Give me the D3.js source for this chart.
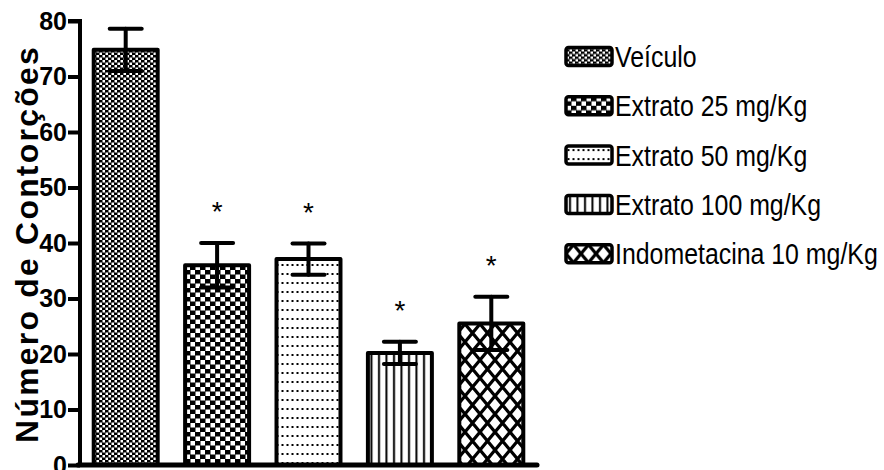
<!DOCTYPE html>
<html>
<head>
<meta charset="utf-8">
<script src="https://cdn.jsdelivr.net/npm/d3@7"></script>
<style>
  html, body { margin: 0; padding: 0; background: #fff; }
  svg { display: block; }
</style>
</head>
<body>
<svg id="chart" width="884" height="470"></svg>
<script>
// Writhing test: number of abdominal contortions per group (mean ± SEM)
const groups = ["Veículo", "Extrato 25 mg/Kg", "Extrato 50 mg/Kg", "Extrato 100 mg/Kg", "Indometacina 10 mg/Kg"];
const means = [74.8, 36.0, 37.1, 20.2, 25.5];
const sems = [3.8, 4.0, 2.8, 2.0, 4.8];
const significant = [false, true, true, true, true];
const yTicks = [0, 10, 20, 30, 40, 50, 60, 70, 80];
const fills = ["pVeh", "pE25", "pE50", "pE100", "pIndo"];

const svg = d3.select("#chart");
const margin = { left: 80, right: 347, top: 21, bottom: 5 };
const W = 884, H = 470;
const FONT = "Liberation Sans, Arial, sans-serif";

const x = d3.scaleBand().domain(groups).range([margin.left, W - margin.right]).paddingInner(0.3).paddingOuter(0.15);
const y = d3.scaleLinear().domain([0, 80]).range([H - margin.bottom, margin.top]);

// Squeeze a text element horizontally so its rendered length equals `target`
function condense(sel, target, anchorX) {
  sel.each(function () {
    const len = this.getComputedTextLength();
    const k = target / len;
    d3.select(this).attr("transform", (d3.select(this).attr("transform") || "") + ` translate(${anchorX},0) scale(${k},1) translate(${-anchorX},0)`);
  });
}

// Fill patterns
const defs = svg.append("defs");
function pat(id, w, h) {
  return defs.append("pattern").attr("id", id).attr("patternUnits", "userSpaceOnUse")
    .attr("width", w).attr("height", h);
}
// fine checkerboard
{
  const p = pat("pVeh", 6, 5);
  p.append("rect").attr("width", 6).attr("height", 5).attr("fill", "#000");
  p.append("rect").attr("x", 0.5).attr("y", 0).attr("width", 2.5).attr("height", 2.5).attr("fill", "#fff");
  p.append("rect").attr("x", 3.5).attr("y", 2.5).attr("width", 2.5).attr("height", 2.5).attr("fill", "#fff");
}
// coarse checkerboard
{
  const p = pat("pE25", 10, 9);
  p.append("rect").attr("width", 10).attr("height", 9).attr("fill", "#000");
  p.append("rect").attr("x", 0.5).attr("y", 0).attr("width", 4.5).attr("height", 4.5).attr("fill", "#fff");
  p.append("rect").attr("x", 5.5).attr("y", 4.5).attr("width", 4.5).attr("height", 4.5).attr("fill", "#fff");
}
// dotted rows
{
  const p = pat("pE50", 5, 9);
  p.append("rect").attr("width", 5).attr("height", 9).attr("fill", "#fff");
  p.append("rect").attr("x", 1.5).attr("y", 3).attr("width", 2).attr("height", 2).attr("fill", "#000");
}
// vertical lines
{
  const p = pat("pE100", 7.5, 10);
  p.append("rect").attr("width", 7.5).attr("height", 10).attr("fill", "#fff");
  p.append("rect").attr("x", 3).attr("y", 0).attr("width", 2).attr("height", 10).attr("fill", "#000");
}
// diagonal crosshatch
{
  const p = pat("pIndo", 15, 18);
  p.append("rect").attr("width", 15).attr("height", 18).attr("fill", "#fff");
  const d = "M-7.5,-9L22.5,27M-7.5,9L7.5,27M7.5,-9L22.5,9M22.5,-9L-7.5,27M7.5,-9L-7.5,9M22.5,9L7.5,27";
  p.append("path").attr("d", d).attr("stroke", "#000").attr("stroke-width", 3.2).attr("fill", "none");
}

// Bars
svg.append("g").selectAll("rect").data(groups).join("rect")
  .attr("x", d => x(d))
  .attr("y", (d, i) => y(means[i]))
  .attr("width", x.bandwidth())
  .attr("height", (d, i) => y(0) - y(means[i]))
  .attr("fill", (d, i) => `url(#${fills[i]})`)
  .attr("stroke", "#000")
  .attr("stroke-width", 4)
  .attr("stroke-linejoin", "round");

// Error bars (mean ± SEM)
const capW = 32;
const eb = svg.append("g").attr("stroke", "#000").attr("stroke-width", 4).attr("stroke-linecap", "round");
groups.forEach((g, i) => {
  const cx = x(g) + x.bandwidth() / 2;
  const lo = y(means[i] - sems[i]), hi = y(means[i] + sems[i]);
  eb.append("line").attr("x1", cx).attr("x2", cx).attr("y1", lo).attr("y2", hi);
  eb.append("line").attr("x1", cx - capW / 2).attr("x2", cx + capW / 2).attr("y1", hi).attr("y2", hi);
  eb.append("line").attr("x1", cx - capW / 2).attr("x2", cx + capW / 2).attr("y1", lo).attr("y2", lo);
});

// Significance markers
svg.append("g").selectAll("text").data(groups.filter((g, i) => significant[i])).join("text")
  .attr("x", g => x(g) + x.bandwidth() / 2)
  .attr("y", g => { const i = groups.indexOf(g); return y(means[i] + sems[i]) - 22; })
  .attr("text-anchor", "middle")
  .attr("font-family", FONT)
  .attr("font-size", 28)
  .text("*");

// Y axis
const yAxis = d3.axisLeft(y).tickValues(yTicks).tickSize(12).tickPadding(1);
const ya = svg.append("g").attr("transform", `translate(${margin.left},0)`).call(yAxis);
ya.select(".domain").attr("stroke-width", 4).attr("d", `M-12,${y(80)}H0V${y(0)}`);
ya.selectAll(".tick line").attr("stroke-width", 4);
ya.selectAll(".tick text")
  .attr("font-family", FONT)
  .attr("font-weight", "bold")
  .attr("font-size", 25)
  .attr("fill", "#000");

// X baseline
svg.append("line")
  .attr("x1", margin.left - 2).attr("x2", W - margin.right)
  .attr("y1", y(0)).attr("y2", y(0))
  .attr("stroke", "#000").attr("stroke-width", 5).attr("stroke-linecap", "round");

// Y axis title
const yt = svg.append("text")
  .attr("transform", "translate(38,244) rotate(-90)")
  .attr("text-anchor", "middle")
  .attr("font-family", FONT)
  .attr("font-weight", "bold")
  .attr("font-size", 32)
  .attr("letter-spacing", 2.3)
  .text("Número de Contorções");
condense(yt, 398, 0);

// Legend
const lg = svg.append("g").attr("transform", "translate(566,56.5)");
const rows = lg.selectAll("g").data(groups).join("g").attr("transform", (d, i) => `translate(0,${i * 49.3})`);
rows.append("rect")
  .attr("x", 0).attr("y", -9).attr("width", 46).attr("height", 18).attr("rx", 2.5)
  .attr("fill", (d, i) => `url(#${fills[i]})`)
  .attr("stroke", "#000").attr("stroke-width", 3.5);
const lt = rows.append("text")
  .attr("x", 49).attr("y", 10.5)
  .attr("font-family", FONT)
  .attr("font-size", 30)
  .text(d => d);
// same horizontal squeeze for every label, set by the longest one
const longest = d3.max(lt.nodes(), n => n.getComputedTextLength());
const kx = 263 / longest;
lt.attr("transform", `translate(49,0) scale(${kx},1) translate(-49,0)`);
</script>
</body>
</html>
